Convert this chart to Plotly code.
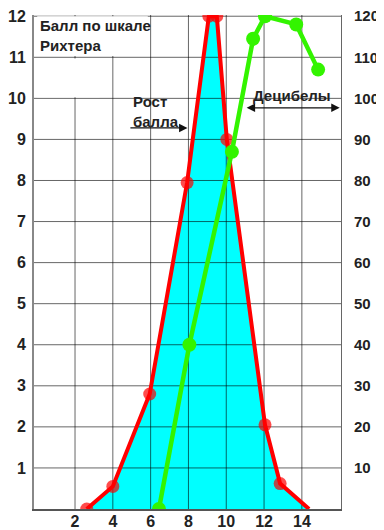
import plotly.graph_objects as go

# ── Data ───────────────────────────────────────────────────────
# Red: Richter magnitude (left axis)
RICHTER_X = [2.62, 4.0, 5.95, 7.93, 9.08, 9.5, 10.03, 12.05, 12.85, 14.38]
RICHTER_Y = [0.0, 0.55, 2.8, 7.95, 12.0, 12.0, 9.0, 2.05, 0.62, 0.0]

# Green: decibels (right axis)
DB_X = [6.44, 8.05, 10.3, 11.42, 12.05, 13.7, 14.86]
DB_Y = [0, 40, 87, 114.5, 120, 118, 107]

X_TICKS = [2, 4, 6, 8, 10, 12, 14]
Y_TICKS = [1, 2, 3, 4, 5, 6, 7, 8, 9, 10, 11, 12]
Y2_TICKS = [10, 20, 30, 40, 50, 60, 70, 80, 90, 100, 110, 120]

X_RANGE = [-0.17, 16.07]
Y_RANGE = [0, 12.03]
Y2_RANGE = [0, 120.3]

RED = "#ff0000"
GREEN = "#33f400"
CYAN = "#00ffff"
GRID = "rgba(0,0,0,0.6)"
FONT = "Liberation Sans, Arial, sans-serif"

fig = go.Figure()

# cyan area under the red curve
fig.add_trace(go.Scatter(
    x=RICHTER_X, y=RICHTER_Y, mode="lines", fill="tozeroy",
    fillcolor=CYAN, line=dict(width=0, color=CYAN), hoverinfo="skip",
))

# grid drawn as a trace so it sits above the fill but under the lines
gx, gy = [], []
for xv in X_TICKS:
    gx += [xv, xv, None]
    gy += [Y_RANGE[0], Y_RANGE[1], None]
for yv in Y_TICKS:
    gx += [X_RANGE[0], X_RANGE[1], None]
    gy += [yv, yv, None]
fig.add_trace(go.Scatter(
    x=gx, y=gy, mode="lines", line=dict(color=GRID, width=1),
    hoverinfo="skip",
))

# red line with markers (last point has no marker)
fig.add_trace(go.Scatter(
    x=RICHTER_X, y=RICHTER_Y, mode="lines+markers",
    line=dict(color=RED, width=4),
    marker=dict(color=RED, size=[13] * (len(RICHTER_X) - 1) + [0],
                line=dict(width=0)),
))

# green decibel line
fig.add_trace(go.Scatter(
    x=DB_X, y=DB_Y, yaxis="y2", mode="lines+markers",
    line=dict(color=GREEN, width=4.5),
    marker=dict(color=GREEN, size=14, line=dict(width=0)),
))

# white patches behind the label (grid is missing there in the original)
for x0, x1, y0, y1 in [(0.0, 5.85, 11.03, 12.0), (0.0, 3.3, 10.03, 10.97)]:
    fig.add_shape(type="rect", x0=x0, x1=x1, y0=y0, y1=y1, xref="x", yref="y",
                  fillcolor="white", line=dict(width=0), layer="above")

lab_font = dict(family=FONT, size=15, color="#222", weight="bold")

fig.add_annotation(x=0.05, y=11.53, xref="x", yref="y", showarrow=False,
                   text="Балл по шкале<br>Рихтера", xanchor="left", align="left",
                   font=lab_font)
fig.add_annotation(x=4.95, y=9.68, xref="x", yref="y", showarrow=False,
                   text="Рост<br>балла", xanchor="left", align="left",
                   font=lab_font)
fig.add_annotation(x=7.95, y=9.28, ax=4.85, ay=9.28, xref="x", yref="y",
                   axref="x", ayref="y", text="", showarrow=True,
                   arrowhead=2, arrowsize=1.3, arrowwidth=1.3, arrowcolor="#111")
fig.add_annotation(x=13.5, y=10.06, xref="x", yref="y", showarrow=False,
                   text="Децибелы", font=lab_font)
fig.add_annotation(x=16.0, y=9.77, ax=11.0, ay=9.77, xref="x", yref="y",
                   axref="x", ayref="y", text="", showarrow=True,
                   arrowside="end+start", arrowhead=2, startarrowhead=2,
                   arrowsize=1.3, startarrowsize=1.3, arrowwidth=1.3,
                   arrowcolor="#111")

tick_font = dict(family=FONT, size=16, color="#222", weight="bold")
tick_font_r = dict(family=FONT, size=15, color="#222", weight="bold")

# the page body adds an 8px offset, so the figure is 8px smaller than the window
fig.update_layout(
    width=376, height=522,
    margin=dict(l=26, r=43, t=7, b=21),
    paper_bgcolor="white", plot_bgcolor="white",
    showlegend=False, hovermode=False,
    xaxis=dict(range=X_RANGE, tickvals=X_TICKS, showgrid=False, zeroline=False,
               showline=True, linecolor="#555", linewidth=2, automargin=False,
               tickfont=tick_font, ticks="", ticklabelstandoff=-3,
               ticklabeloverflow="allow"),
    yaxis=dict(range=Y_RANGE, tickvals=Y_TICKS, showgrid=False, zeroline=False,
               showline=True, linecolor="#888", linewidth=2, automargin=False,
               tickfont=tick_font, ticks="", ticklabelstandoff=3,
               ticklabeloverflow="allow"),
    yaxis2=dict(range=Y2_RANGE, tickvals=Y2_TICKS, overlaying="y", side="right",
                showgrid=False, zeroline=False, showline=True, automargin=False,
                linecolor=GRID, linewidth=1,
                tickfont=tick_font_r, ticks="", ticklabelstandoff=9,
                ticklabeloverflow="allow"),
)

fig.write_html("out.html")
